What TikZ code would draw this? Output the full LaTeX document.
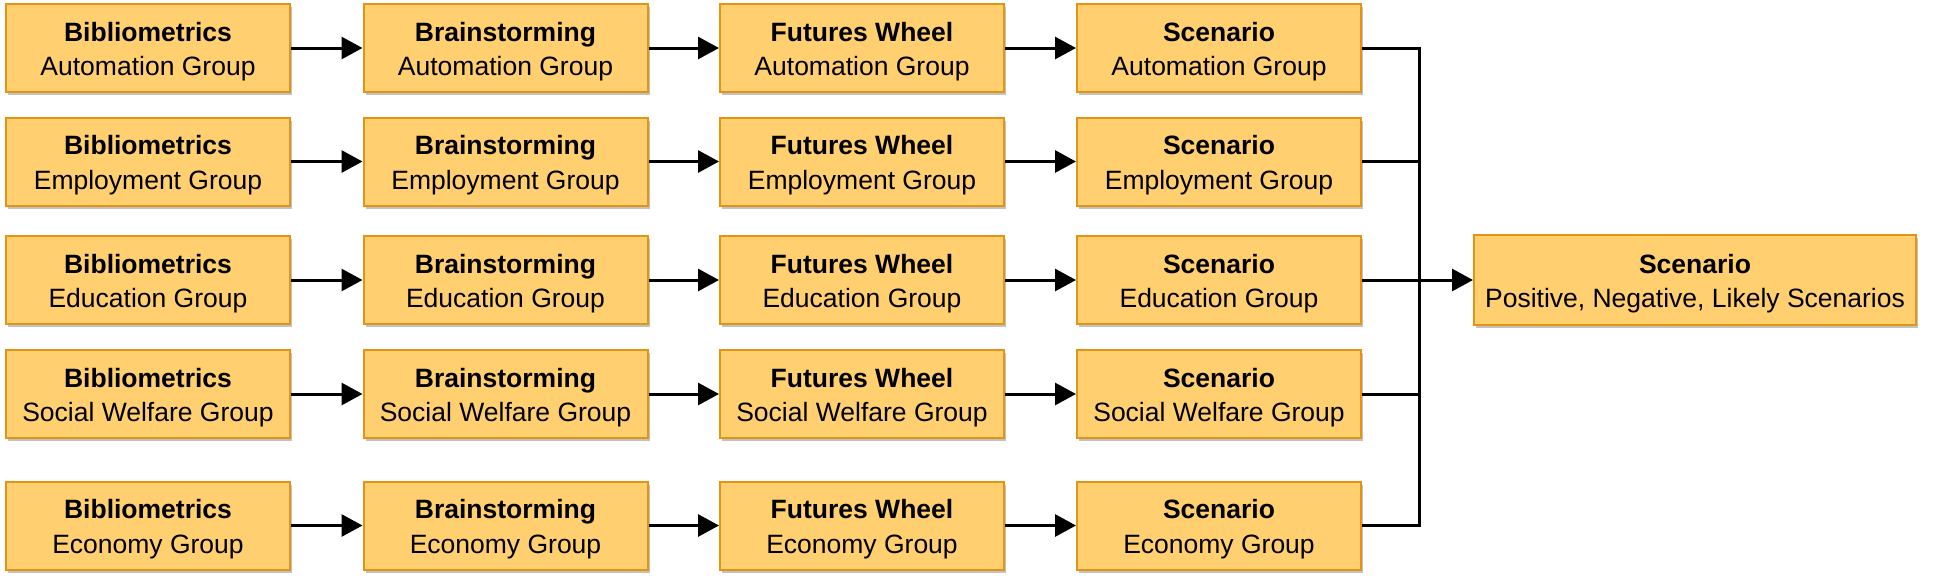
\documentclass[tikz,border=0pt]{standalone}
\usepackage{fontspec}
\setmainfont{Liberation Sans}
\usetikzlibrary{arrows.meta,shadows}
\definecolor{boxfill}{RGB}{255,207,112}
\definecolor{boxline}{RGB}{226,148,20}
\newcommand\topgap{\rule{0pt}{26pt}}
\tikzset{
  stagebox/.style={draw=boxline, line width=2pt, fill=boxfill,
    minimum width=284pt, minimum height=88pt, inner sep=0pt, align=center,
    font=\fontsize{26.5}{34.5}\selectfont,
    drop shadow={shadow xshift=2pt, shadow yshift=-3pt, opacity=0.4, fill=black!60}},
  finalbox/.style={stagebox, minimum width=442pt, minimum height=90pt},
  flow/.style={line width=3pt, -{Triangle[length=21pt,width=22pt]}},
  joinline/.style={line width=3pt}
}
\begin{document}
\begin{tikzpicture}[x=1pt,y=-1pt]
\useasboundingbox (0,0) rectangle (1943,582);
\foreach \g/\y/\r in {Automation Group/48/1, Employment Group/161.5/2, Education Group/280/3, Social Welfare Group/394/4, Economy Group/525.5/5}{
  \node[stagebox] (bib\r) at (148,\y) {\topgap\textbf{Bibliometrics}\\\g};
  \node[stagebox] (bra\r) at (505.5,\y) {\topgap\textbf{Brainstorming}\\\g};
  \node[stagebox] (fut\r) at (862,\y) {\topgap\textbf{Futures Wheel}\\\g};
  \node[stagebox] (sce\r) at (1219,\y) {\topgap\textbf{Scenario}\\\g};
  \draw[flow] (bib\r) -- (bra\r);
  \draw[flow] (bra\r) -- (fut\r);
  \draw[flow] (fut\r) -- (sce\r);
  \coordinate (j\r) at (1419,\y);
  \draw[joinline] (sce\r.east) -- (j\r);
}
\node[finalbox] (final) at (1695,280) {\topgap\textbf{Scenario}\\Positive, Negative, Likely Scenarios};
\draw[joinline, line cap=rect] (j1) -- (j5);
\draw[flow] (j3) -- (final);
\end{tikzpicture}
\end{document}
